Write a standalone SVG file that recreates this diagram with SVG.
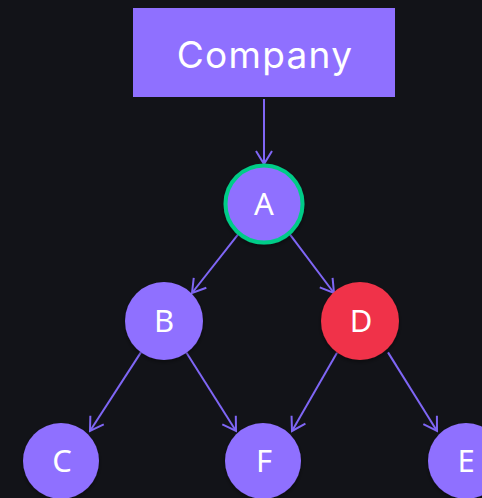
<svg xmlns="http://www.w3.org/2000/svg" width="482" height="498" viewBox="0 0 482 498">
<defs>
<style>
.node{fill:#8f70ff}
.red{fill:#f03348}
.lbl{fill:#ffffff;font-family:"Noto Sans","Open Sans",sans-serif;font-size:31px;text-anchor:middle}
.edge{stroke:#7f66f5;stroke-width:2;fill:none;marker-end:url(#arr)}
</style>
<marker id="arr" markerUnits="userSpaceOnUse" markerWidth="30" markerHeight="30" refX="0" refY="0" viewBox="-15 -15 30 30" orient="auto">
<path d="M -13 -8 L 0 0 L -13 8" fill="none" stroke="#7f66f5" stroke-width="2"/>
</marker>
<filter id="sh" x="-30%" y="-30%" width="160%" height="160%">
<feDropShadow dx="0" dy="2" stdDeviation="2" flood-color="#000" flood-opacity="0.4"/>
</filter>
</defs>
<rect width="482" height="498" fill="#121318"/>
<g id="connectors">
<line class="edge" x1="264" y1="99" x2="264" y2="164"/>
<line class="edge" x1="238.7" y1="233.6" x2="192" y2="293"/>
<line class="edge" x1="289.3" y1="233.6" x2="334" y2="293"/>
<line class="edge" x1="140.9" y1="352.4" x2="90" y2="431"/>
<line class="edge" x1="186.5" y1="352.8" x2="236" y2="431"/>
<line class="edge" x1="337" y1="352.8" x2="292" y2="431"/>
<line class="edge" x1="388" y1="352.4" x2="437" y2="431"/>
</g>
<g id="company">
<rect x="133" y="8" width="262" height="89" fill="#8f70ff"/>
<text x="265" y="68" fill="#ffffff" font-family="Inter,'Noto Sans',sans-serif" font-size="37" letter-spacing="1.3" text-anchor="middle">Company</text>
</g>
<g id="A">
<circle cx="264" cy="204" r="38.5" class="node" stroke="#00cc88" stroke-width="4" filter="url(#sh)"/>
<text x="264" y="215" class="lbl">A</text>
</g>
<g id="B">
<circle cx="164" cy="321" r="39" class="node" filter="url(#sh)"/>
<text x="164" y="332" class="lbl">B</text>
</g>
<g id="D">
<circle cx="360" cy="321" r="39" class="red" filter="url(#sh)"/>
<text x="361" y="332" class="lbl">D</text>
</g>
<g id="C">
<circle cx="61" cy="461" r="38" class="node" filter="url(#sh)"/>
<text x="62" y="472" class="lbl">C</text>
</g>
<g id="F">
<circle cx="263" cy="461" r="38" class="node" filter="url(#sh)"/>
<text x="264" y="472" class="lbl">F</text>
</g>
<g id="E">
<circle cx="466" cy="461" r="38" class="node" filter="url(#sh)"/>
<text x="466" y="472" class="lbl">E</text>
</g>
</svg>
